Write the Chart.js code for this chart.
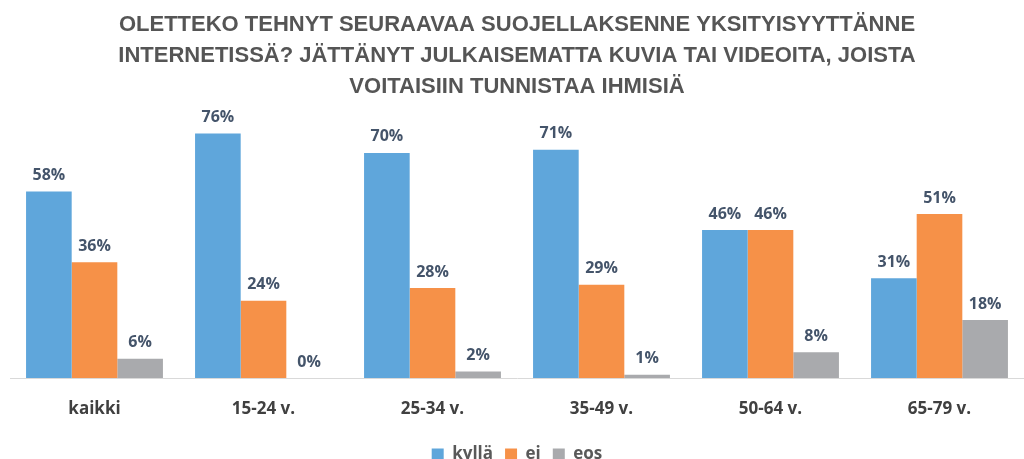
<!DOCTYPE html>
<html>
<head>
<meta charset="utf-8">
<script src="https://cdn.jsdelivr.net/npm/chart.js@4/dist/chart.umd.min.js"></script>
<style>
html,body{margin:0;padding:0;background:#fff;}
#wrap{width:1024px;height:459px;}
</style>
</head>
<body>
<div id="wrap"><canvas id="c" width="1024" height="459"></canvas></div>
<script>
const titleLines = [
  "OLETTEKO TEHNYT SEURAAVAA SUOJELLAKSENNE YKSITYISYYTTÄNNE",
  "INTERNETISSÄ? JÄTTÄNYT JULKAISEMATTA KUVIA TAI VIDEOITA, JOISTA",
  "VOITAISIIN TUNNISTAA IHMISIÄ"
];
const categories = ["kaikki", "15-24 v.", "25-34 v.", "35-49 v.", "50-64 v.", "65-79 v."];
const seriesNames = ["kyllä", "ei", "eos"];
const kylla = [58, 76, 70, 71, 46, 31];
const ei = [36, 24, 28, 29, 46, 51];
const eos = [6, 0, 2, 1, 8, 18];
const colors = ["#5fa6db", "#f69148", "#a9aaad"];

const valueLabels = {
  id: 'valueLabels',
  afterDatasetsDraw(chart) {
    const ctx = chart.ctx;
    ctx.save();
    ctx.font = "bold 16px 'Open Sans', sans-serif";
    ctx.fillStyle = "#44546a";
    ctx.textAlign = "center";
    ctx.textBaseline = "bottom";
    chart.data.datasets.forEach((ds, i) => {
      const meta = chart.getDatasetMeta(i);
      meta.data.forEach((bar, j) => {
        ctx.fillText(ds.data[j] + "%", bar.x, bar.y - 8);
      });
    });
    ctx.restore();
  }
};

new Chart(document.getElementById('c'), {
  type: 'bar',
  data: {
    labels: categories,
    datasets: [
      { label: seriesNames[0], data: kylla, backgroundColor: colors[0] },
      { label: seriesNames[1], data: ei, backgroundColor: colors[1] },
      { label: seriesNames[2], data: eos, backgroundColor: colors[2] }
    ]
  },
  options: {
    responsive: false,
    animation: false,
    layout: { padding: { left: 10, right: 0, top: 0, bottom: -14 } },
    datasets: { bar: { categoryPercentage: 0.81, barPercentage: 1.0 } },
    plugins: {
      title: {
        display: true,
        text: titleLines,
        color: "#555555",
        font: { family: "'Liberation Sans', sans-serif", size: 22, weight: 'bold', lineHeight: 1.39 },
        padding: { top: 10, bottom: 19 }
      },
      legend: {
        position: 'bottom',
        labels: {
          color: "#595959",
          font: { family: "'Open Sans', sans-serif", size: 17, weight: 'bold' },
          boxWidth: 12, boxHeight: 12, padding: 12
        }
      },
      tooltip: { enabled: false }
    },
    scales: {
      x: {
        grid: { display: false },
        border: { display: true, color: "#d9d9d9", width: 1 },
        ticks: {
          color: "#404040",
          font: { family: "'Open Sans', sans-serif", size: 17, weight: 'bold' },
          padding: 13
        },
        afterFit(scale) { scale.height = 56; }
      },
      y: {
        display: false,
        min: 0, max: 80
      }
    }
  },
  plugins: [valueLabels]
});
</script>
</body>
</html>
